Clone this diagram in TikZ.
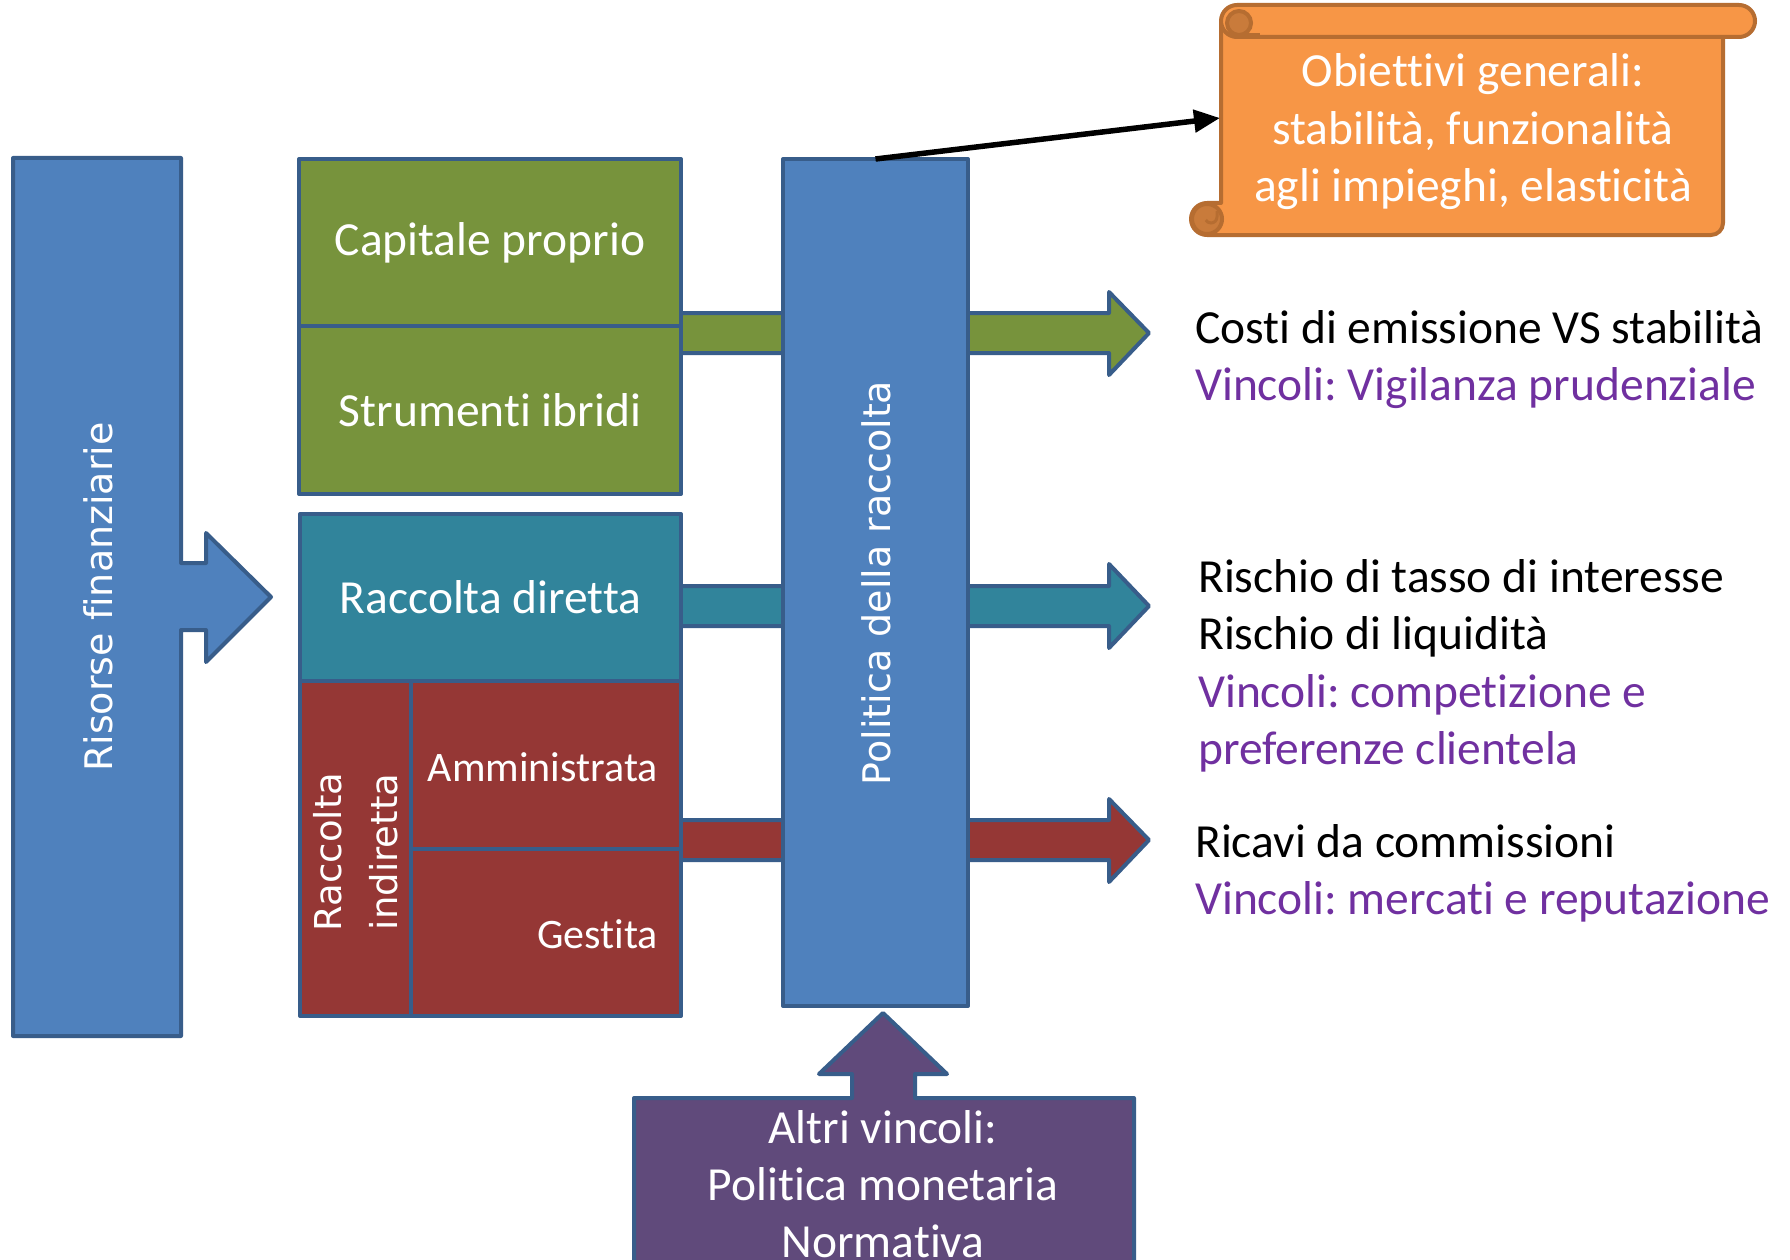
\documentclass[tikz,border=0pt]{standalone}
\usepackage{fontspec}
\setmainfont{Carlito}[Ligatures={NoCommon,NoRare,NoContextual}]
\newfontfamily\vfont{DejaVu Sans}[Ligatures={NoCommon}]
\usetikzlibrary{arrows.meta}
\definecolor{bord}{HTML}{385D8A}
\definecolor{blueF}{HTML}{4F81BD}
\definecolor{greenF}{HTML}{77933C}
\definecolor{tealF}{HTML}{31849B}
\definecolor{redF}{HTML}{953735}
\definecolor{purpF}{HTML}{604A7B}
\definecolor{orF}{HTML}{F79646}
\definecolor{orD}{HTML}{B66D31}
\definecolor{orC}{HTML}{C97B3B}
\definecolor{vinc}{HTML}{7030A0}
\frenchspacing
\begin{document}
\begin{tikzpicture}[x=1pt,y=-1pt,
  shp/.style={draw=bord, line width=4pt, line join=round},
  box/.style={shp, inner sep=0pt, outer sep=0pt, anchor=north west, text=white,
    font=\fontsize{47.5}{57}\selectfont},
  wlbl/.style={text=white, inner sep=0pt, font=\fontsize{47.5}{57}\selectfont},
  slbl/.style={text=white, inner sep=0pt, font=\fontsize{42}{50}\selectfont},
  rlbl/.style={text=white, inner sep=0pt, rotate=90, align=center},
  tlbl/.style={text=black, inner sep=0pt, anchor=base west, font=\fontsize{47.5}{57}\selectfont},
  vlbl/.style={tlbl, text=vinc},
  scrl/.style={draw=orD, fill=orF, line width=4pt, line join=round}
]
\useasboundingbox (0,0) rectangle (1790,1260);
\fill[white] (0,0) rectangle (1790,1260);
\clip (0,0) rectangle (1790,1260);

% arrows to the right (behind boxes and bar)
\draw[shp, fill=greenF] (640,313) -- (1109,313) -- (1109,292) -- (1149,333) -- (1109,375) -- (1109,353) -- (640,353) -- cycle;
\draw[shp, fill=tealF] (640,586) -- (1109,586) -- (1109,564) -- (1149,606) -- (1109,648) -- (1109,626) -- (640,626) -- cycle;
\draw[shp, fill=redF] (640,820) -- (1109,820) -- (1109,799) -- (1149,840) -- (1109,882) -- (1109,860) -- (640,860) -- cycle;

% left box with arrow
\draw[shp, fill=blueF] (13,158) -- (181,158) -- (181,563) -- (206,563) -- (206,533) -- (271,597) -- (206,662) -- (206,630) -- (181,630) -- (181,1036) -- (13,1036) -- cycle;
\node[rlbl, font=\vfont\fontsize{38}{46}\selectfont] (ris) at (98,597) {Risorse finanziarie};

% source boxes
\node[box, fill=greenF, minimum width=382, minimum height=167] (cap) at (299,159) {Capitale proprio};
\node[box, fill=greenF, minimum width=382, minimum height=168] (str) at (299,326) {Strumenti ibridi};
\node[box, fill=tealF, minimum width=381, minimum height=167] (dir) at (300,514) {Raccolta diretta};
\node[box, fill=redF, minimum width=111, minimum height=335] (ind) at (300,681) {};
\node[box, fill=redF, minimum width=270, minimum height=168] (amm) at (411,681) {};
\node[box, fill=redF, minimum width=270, minimum height=167] (ges) at (411,849) {};
\node[rlbl, font=\vfont\fontsize{37}{56}\selectfont] (indT) at (356,852) {Raccolta\\indiretta};
\node[slbl, anchor=base east] (ammT) at (658,781) {Amministrata};
\node[slbl, anchor=base east] (gesT) at (658,948) {Gestita};

% policy bar
\node[box, fill=blueF, minimum width=185, minimum height=847] (pol) at (783,159) {};
\node[rlbl, font=\vfont\fontsize{38}{46}\selectfont] (polT) at (876,583) {Politica della raccolta};

% other constraints box with up arrow
\draw[shp, fill=purpF] (634,1300) -- (634,1098) -- (852,1098) -- (852,1074) -- (819,1074) -- (883,1013) -- (947,1074) -- (915,1074) -- (915,1098) -- (1134,1098) -- (1134,1300) -- cycle;
\node[wlbl, anchor=base] (alt1) at (883,1143) {Altri vincoli:};
\node[wlbl, anchor=base] (alt2) at (883,1200) {Politica monetaria};
\node[wlbl, anchor=base] (alt3) at (883,1257) {Normativa};

% scroll
\draw[scrl] (1221,21) -- (1723,21) -- (1723,223) arc[start angle=0,end angle=90,radius=12] -- (1207,235) arc[start angle=90,end angle=270,radius=16] -- (1221,203) -- cycle;
\draw[scrl] (1237,5) -- (1739,5) arc[start angle=-90,end angle=90,radius=16] -- (1237,37) arc[start angle=90,end angle=270,radius=16] -- cycle;
\draw[draw=orD, fill=orC, line width=4pt] (1239,23) circle[radius=12];
\draw[draw=orD, line width=4pt] (1239,35) -- (1260,35);
\draw[draw=orD, fill=orC, line width=4pt] (1207,219) circle[radius=15];
\draw[draw=orD, line width=3pt] (1217,211) -- (1217,217) arc[start angle=0,end angle=150,radius=6];
\coordinate (scr) at (1220,118);
\node[wlbl, anchor=base] (ob1) at (1473,87) {Obiettivi generali:};
\node[wlbl, anchor=base] (ob2) at (1473,145) {stabilità, funzionalità};
\node[wlbl, anchor=base] (ob3) at (1473,202) {agli impieghi, elasticità};

% connector
\draw[line width=5.5pt, -{Triangle[length=26pt,width=22pt]}] (pol.north) -- (scr);

% right-hand texts
\node[tlbl] (c1) at (1195,343) {Costi di emissione VS stabilità};
\node[vlbl] (c2) at (1195,400) {Vincoli: Vigilanza prudenziale};
\node[tlbl] (r1) at (1198,592) {Rischio di tasso di interesse};
\node[tlbl] (r2) at (1198,649) {Rischio di liquidità};
\node[vlbl] (r3) at (1198,707) {Vincoli: competizione e};
\node[vlbl] (r4) at (1198,764) {preferenze clientela};
\node[tlbl] (k1) at (1195,857) {Ricavi da commissioni};
\node[vlbl] (k2) at (1195,914) {Vincoli: mercati e reputazione};
\end{tikzpicture}
\end{document}
